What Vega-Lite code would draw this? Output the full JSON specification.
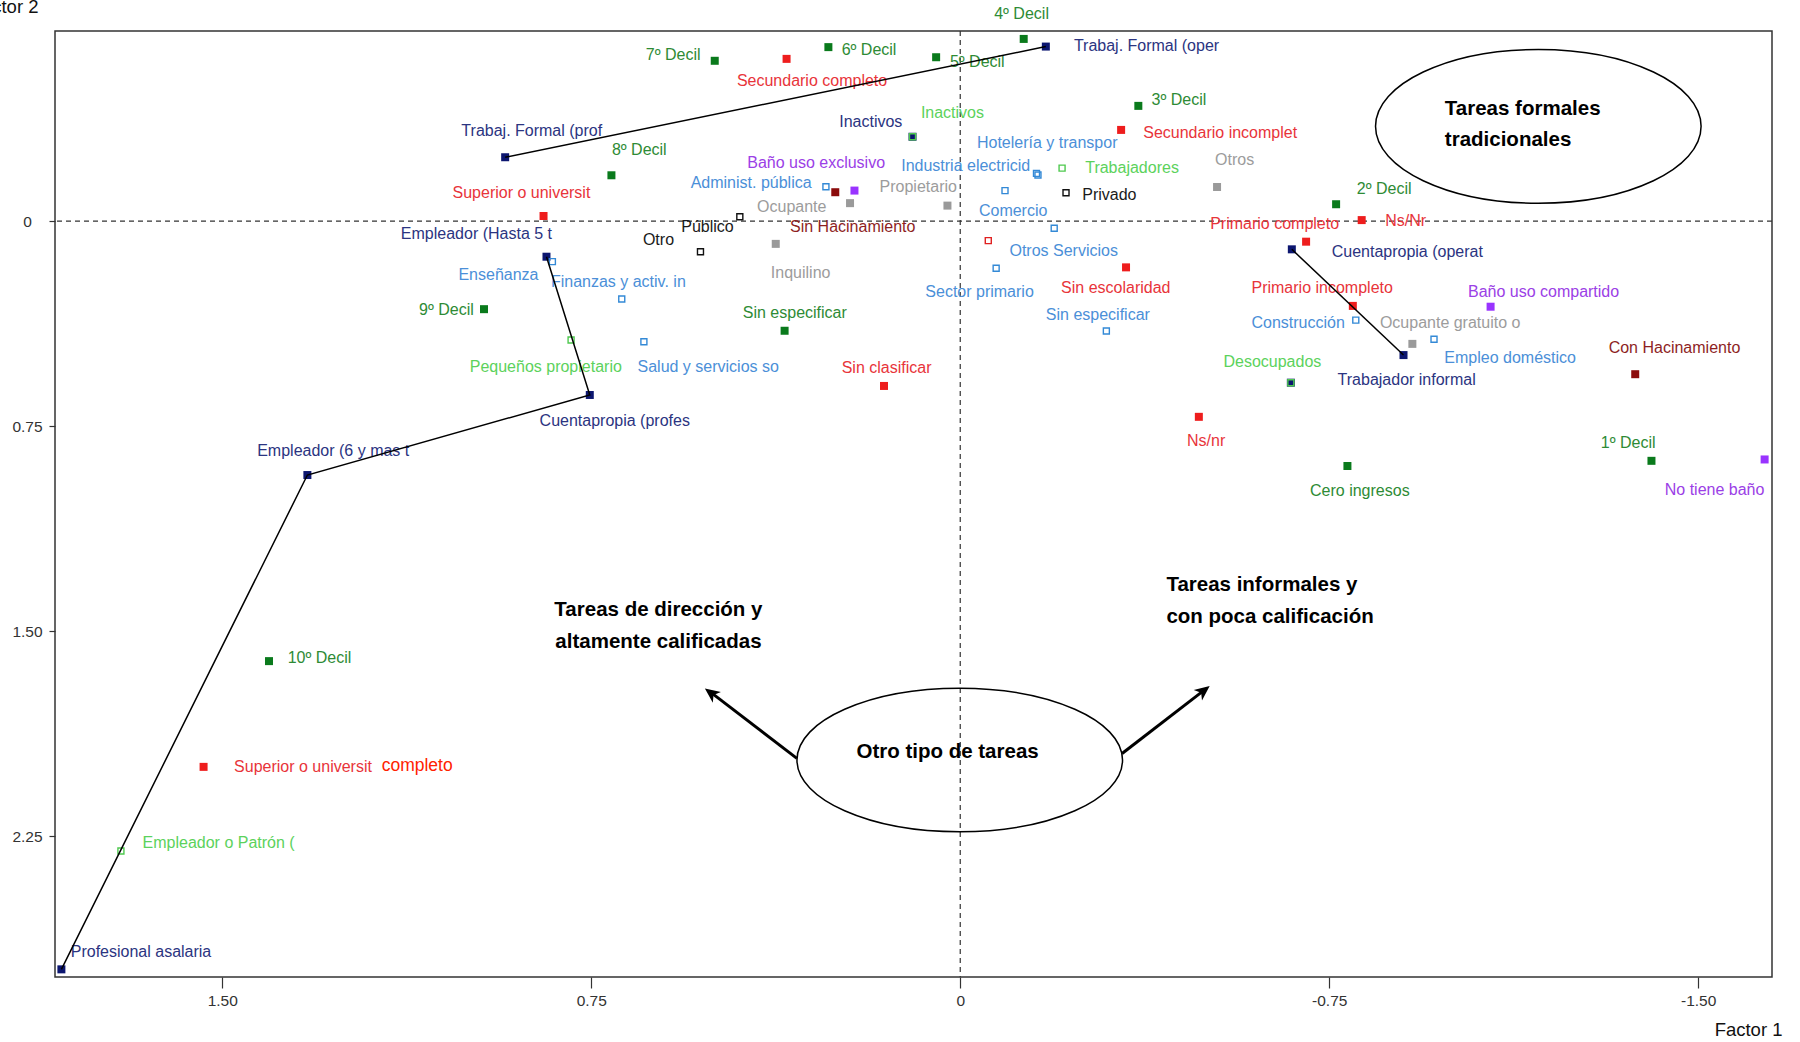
{
  "$schema": "https://vega.github.io/schema/vega-lite/v6.json",
  "width": 1717,
  "height": 946,
  "autosize": {"type": "none"},
  "padding": {"left": 55, "top": 31, "right": 28, "bottom": 65},
  "background": "white",
  "config": {
    "view": {"stroke": "#333333", "strokeWidth": 1.5},
    "axis": {"grid": false, "domain": false}
  },
  "datasets": {
    "pts": [
      {"n": "Trabaj. Formal (oper", "g": "ocup", "x": -0.174, "y": -0.639, "lx": -0.231, "ly": -0.641, "chain": "a", "ord": 1},
      {"n": "Trabaj. Formal (prof", "g": "ocup", "x": 0.925, "y": -0.234, "lx": 1.014, "ly": -0.329, "chain": "a", "ord": 2},
      {"n": "Empleador (Hasta 5 t", "g": "ocup", "x": 0.841, "y": 0.130, "lx": 1.137, "ly": 0.047, "chain": "b", "ord": 1},
      {"n": "Cuentapropia (profes", "g": "ocup", "x": 0.753, "y": 0.636, "lx": 0.855, "ly": 0.733, "chain": "b", "ord": 2},
      {"n": "Empleador (6 y mas t", "g": "ocup", "x": 1.327, "y": 0.929, "lx": 1.429, "ly": 0.840, "chain": "b", "ord": 3},
      {"n": "Profesional asalaria", "g": "ocup", "x": 1.827, "y": 2.738, "lx": 1.808, "ly": 2.674, "chain": "b", "ord": 4},
      {"n": "Cuentapropia (operat", "g": "ocup", "x": -0.674, "y": 0.103, "lx": -0.755, "ly": 0.113, "chain": "c", "ord": 1},
      {"n": "Trabajador informal", "g": "ocup", "x": -0.901, "y": 0.490, "lx": -0.767, "ly": 0.581, "chain": "c", "ord": 2},
      {"n": "Inactivos", "g": "ocup", "x": 0.097, "y": -0.309, "lx": 0.246, "ly": -0.364},
      {"n": "", "g": "ocup", "x": -0.672, "y": 0.591, "lx": -0.535, "ly": 0.514},
      {"n": "10º Decil", "g": "decil", "x": 1.405, "y": 1.610, "lx": 1.367, "ly": 1.600},
      {"n": "9º Decil", "g": "decil", "x": 0.968, "y": 0.322, "lx": 1.100, "ly": 0.325},
      {"n": "8º Decil", "g": "decil", "x": 0.709, "y": -0.168, "lx": 0.708, "ly": -0.259},
      {"n": "7º Decil", "g": "decil", "x": 0.499, "y": -0.587, "lx": 0.639, "ly": -0.608},
      {"n": "6º Decil", "g": "decil", "x": 0.268, "y": -0.637, "lx": 0.241, "ly": -0.627},
      {"n": "5º Decil", "g": "decil", "x": 0.049, "y": -0.600, "lx": 0.021, "ly": -0.584},
      {"n": "4º Decil", "g": "decil", "x": -0.129, "y": -0.667, "lx": -0.069, "ly": -0.758},
      {"n": "3º Decil", "g": "decil", "x": -0.362, "y": -0.422, "lx": -0.389, "ly": -0.444},
      {"n": "2º Decil", "g": "decil", "x": -0.764, "y": -0.062, "lx": -0.806, "ly": -0.116},
      {"n": "1º Decil", "g": "decil", "x": -1.405, "y": 0.877, "lx": -1.302, "ly": 0.813},
      {"n": "Sin especificar", "g": "decil", "x": 0.357, "y": 0.401, "lx": 0.442, "ly": 0.337},
      {"n": "Cero ingresos", "g": "decil", "x": -0.787, "y": 0.896, "lx": -0.711, "ly": 0.986},
      {"n": "Superior o universit", "g": "educ", "x": 0.847, "y": -0.019, "lx": 1.032, "ly": -0.102},
      {"n": "Superior o universit", "g": "educ", "x": 1.538, "y": 1.997, "lx": 1.476, "ly": 1.997},
      {"n": "Secundario completo", "g": "educ", "x": 0.353, "y": -0.594, "lx": 0.454, "ly": -0.513},
      {"n": "Secundario incomplet", "g": "educ", "x": -0.327, "y": -0.334, "lx": -0.372, "ly": -0.322},
      {"n": "Primario completo", "g": "educ", "x": -0.703, "y": 0.075, "lx": -0.508, "ly": 0.010},
      {"n": "Primario incompleto", "g": "educ", "x": -0.798, "y": 0.310, "lx": -0.592, "ly": 0.246},
      {"n": "Sin escolaridad", "g": "educ", "x": -0.337, "y": 0.169, "lx": -0.205, "ly": 0.246},
      {"n": "Ns/Nr", "g": "educ", "x": -0.816, "y": -0.004, "lx": -0.864, "ly": -0.002},
      {"n": "Ns/nr", "g": "educ", "x": -0.485, "y": 0.716, "lx": -0.461, "ly": 0.804},
      {"n": "Sin clasificar", "g": "educ", "x": 0.155, "y": 0.603, "lx": 0.241, "ly": 0.538},
      {"n": "Inactivos", "g": "activ", "x": 0.097, "y": -0.309, "lx": 0.080, "ly": -0.397},
      {"n": "Trabajadores", "g": "activ", "x": -0.207, "y": -0.194, "lx": -0.254, "ly": -0.194},
      {"n": "Desocupados", "g": "activ", "x": -0.672, "y": 0.591, "lx": -0.535, "ly": 0.514},
      {"n": "Pequeños propietario", "g": "activ", "x": 0.791, "y": 0.435, "lx": 0.997, "ly": 0.533},
      {"n": "Empleador o Patrón (", "g": "activ", "x": 1.706, "y": 2.305, "lx": 1.662, "ly": 2.277},
      {"n": "Hotelería y transpor", "g": "rama", "x": -0.158, "y": -0.169, "lx": -0.034, "ly": -0.285},
      {"n": "Industria electricid", "g": "rama", "x": -0.155, "y": -0.175, "lx": 0.120, "ly": -0.202},
      {"n": "Comercio", "g": "rama", "x": -0.091, "y": -0.112, "lx": -0.038, "ly": -0.038},
      {"n": "Otros Servicios", "g": "rama", "x": -0.191, "y": 0.026, "lx": -0.100, "ly": 0.108},
      {"n": "Administ. pública", "g": "rama", "x": 0.273, "y": -0.126, "lx": 0.548, "ly": -0.139},
      {"n": "Enseñanza", "g": "rama", "x": 0.829, "y": 0.148, "lx": 1.020, "ly": 0.197},
      {"n": "Finanzas y activ. in", "g": "rama", "x": 0.688, "y": 0.285, "lx": 0.832, "ly": 0.221},
      {"n": "Salud y servicios so", "g": "rama", "x": 0.643, "y": 0.441, "lx": 0.656, "ly": 0.533},
      {"n": "Sector primario", "g": "rama", "x": -0.073, "y": 0.172, "lx": 0.071, "ly": 0.258},
      {"n": "Sin especificar", "g": "rama", "x": -0.297, "y": 0.402, "lx": -0.174, "ly": 0.343},
      {"n": "Construcción", "g": "rama", "x": -0.804, "y": 0.362, "lx": -0.592, "ly": 0.374},
      {"n": "Empleo doméstico", "g": "rama", "x": -0.963, "y": 0.432, "lx": -0.984, "ly": 0.502},
      {"n": "Baño uso exclusivo", "g": "bano", "x": 0.215, "y": -0.112, "lx": 0.433, "ly": -0.212},
      {"n": "Baño uso compartido", "g": "bano", "x": -1.078, "y": 0.313, "lx": -1.032, "ly": 0.258},
      {"n": "No tiene baño", "g": "bano", "x": -1.635, "y": 0.872, "lx": -1.432, "ly": 0.984},
      {"n": "Sin Hacinamiento", "g": "hacin", "x": 0.254, "y": -0.106, "lx": 0.346, "ly": 0.020},
      {"n": "Con Hacinamiento", "g": "hacin", "x": -1.372, "y": 0.560, "lx": -1.318, "ly": 0.465},
      {"n": "Propietario", "g": "tenen", "x": 0.026, "y": -0.057, "lx": 0.164, "ly": -0.126},
      {"n": "Ocupante", "g": "tenen", "x": 0.224, "y": -0.066, "lx": 0.413, "ly": -0.053},
      {"n": "Inquilino", "g": "tenen", "x": 0.375, "y": 0.083, "lx": 0.385, "ly": 0.191},
      {"n": "Otros", "g": "tenen", "x": -0.522, "y": -0.125, "lx": -0.518, "ly": -0.224},
      {"n": "Ocupante gratuito o", "g": "tenen", "x": -0.919, "y": 0.449, "lx": -0.853, "ly": 0.374},
      {"n": "Público", "g": "sector", "x": 0.448, "y": -0.016, "lx": 0.567, "ly": 0.022},
      {"n": "Privado", "g": "sector", "x": -0.215, "y": -0.104, "lx": -0.248, "ly": -0.096},
      {"n": "Otro", "g": "sector", "x": 0.528, "y": 0.112, "lx": 0.645, "ly": 0.069},
      {"n": "", "g": "redh", "x": -0.057, "y": 0.071, "lx": -0.057, "ly": 0.071}
    ],
    "notes": [
      {"t": "Tareas formales", "x": -0.985, "y": -0.410},
      {"t": "tradicionales", "x": -0.985, "y": -0.297},
      {"t": "Tareas de dirección y", "x": 0.825, "y": 1.423},
      {"t": "altamente calificadas", "x": 0.823, "y": 1.540},
      {"t": "Tareas informales y", "x": -0.419, "y": 1.330},
      {"t": "con poca calificación", "x": -0.419, "y": 1.447},
      {"t": "Otro tipo de tareas", "x": 0.211, "y": 1.942}
    ],
    "extra": [
      {"t": "completo", "x": 1.176, "y": 1.995}
    ],
    "ellipses": [
      {"e": "e1", "x": -1.175, "y": -0.347},
      {"e": "e2", "x": 0.001, "y": 1.972}
    ],
    "arrows": [
      {"x": 0.332, "y": 1.966, "x2": 0.505, "y2": 1.727},
      {"x": -0.329, "y": 1.948, "x2": -0.494, "y2": 1.719}
    ]
  },
  "layer": [
    {
      "data": {"values": [{}]},
      "mark": {"type": "rule", "strokeDash": [5, 4], "color": "#333333", "strokeWidth": 1.2},
      "encoding": {
        "y": {"datum": 0, "type": "quantitative", "title": "Factor 2", "scale": {"domain": [-0.696, 2.766], "reverse": true, "nice": false, "zero": false}}
      }
    },
    {
      "data": {"values": [{}]},
      "mark": {"type": "rule", "strokeDash": [5, 4], "color": "#333333", "strokeWidth": 1.2},
      "encoding": {
        "x": {"datum": 0, "type": "quantitative", "title": "Factor 1", "scale": {"domain": [-1.65, 1.84], "reverse": true, "nice": false, "zero": false}}
      }
    },
    {
      "data": {"name": "pts"},
      "transform": [{"filter": "indexof(['ocup','decil','educ','bano','hacin','tenen'], datum.g) >= 0"}],
      "mark": {"type": "square", "size": 64, "filled": true, "opacity": 1},
      "encoding": {
        "x": {"field": "x", "type": "quantitative", "title": "Factor 1",
          "scale": {"domain": [-1.65, 1.84], "reverse": true, "nice": false, "zero": false},
          "axis": {"values": [1.5, 0.75, 0, -0.75, -1.5], "labelExpr": "datum.value == 0 ? '0' : replace(format(datum.value, '.2f'), '\u2212', '-')",
            "tickSize": 11, "tickColor": "#333333", "tickWidth": 1.2, "labelPadding": 5,
            "labelFont": "Liberation Sans, Arial, sans-serif", "labelFontSize": 15.5, "labelColor": "#333333",
            "titleFont": "Liberation Sans, Arial, sans-serif", "titleFontSize": 18.5, "titleFontWeight": "normal", "titleColor": "#111111",
            "titleX": 1727, "titleY": 58, "titleAlign": "right", "titleBaseline": "alphabetic"}},
        "y": {"field": "y", "type": "quantitative", "title": "Factor 2",
          "scale": {"domain": [-0.696, 2.766], "reverse": true, "nice": false, "zero": false},
          "axis": {"values": [0, 0.75, 1.5, 2.25], "labelExpr": "datum.value == 0 ? '0' : format(datum.value, '.2f')",
            "tickSize": 6, "tickColor": "#333333", "tickWidth": 1.2, "labelPadding": 22, "labelAlign": "center", "labelBaseline": "middle",
            "labelFont": "Liberation Sans, Arial, sans-serif", "labelFontSize": 15.5, "labelColor": "#333333",
            "titleFont": "Liberation Sans, Arial, sans-serif", "titleFontSize": 18.5, "titleFontWeight": "normal", "titleColor": "#111111",
            "titleAngle": 0, "titleX": -17, "titleY": -19, "titleAlign": "right", "titleBaseline": "alphabetic"}},
        "fill": {"field": "g", "type": "nominal", "legend": null,
          "scale": {"domain": ["ocup", "decil", "educ", "bano", "hacin", "tenen"], "range": ["#0c1670", "#0a7a1c", "#ee1d1d", "#9933ff", "#8b0b0b", "#9a9a9a"]}}
      }
    },
    {
      "data": {"name": "pts"},
      "transform": [{"filter": "indexof(['activ','rama','sector','redh'], datum.g) >= 0"}],
      "mark": {"type": "square", "size": 36, "filled": false, "strokeWidth": 1.4, "opacity": 1},
      "encoding": {
        "x": {"field": "x", "type": "quantitative", "title": "Factor 1", "scale": {"domain": [-1.65, 1.84], "reverse": true, "nice": false, "zero": false}},
        "y": {"field": "y", "type": "quantitative", "title": "Factor 2", "scale": {"domain": [-0.696, 2.766], "reverse": true, "nice": false, "zero": false}},
        "stroke": {"field": "g", "type": "nominal", "legend": null,
          "scale": {"domain": ["activ", "rama", "sector", "redh"], "range": ["#4fc94f", "#3389d6", "#111111", "#e02020"]}}
      }
    },
    {
      "data": {"name": "pts"},
      "transform": [{"filter": "datum.n != ''"}],
      "mark": {"type": "text", "align": "left", "baseline": "middle", "font": "Liberation Sans, Arial, sans-serif", "fontSize": 16},
      "encoding": {
        "x": {"field": "lx", "type": "quantitative", "title": "Factor 1", "scale": {"domain": [-1.65, 1.84], "reverse": true, "nice": false, "zero": false}},
        "y": {"field": "ly", "type": "quantitative", "title": "Factor 2", "scale": {"domain": [-0.696, 2.766], "reverse": true, "nice": false, "zero": false}},
        "text": {"field": "n"},
        "color": {"field": "g", "type": "nominal", "legend": null,
          "scale": {"domain": ["ocup", "decil", "educ", "activ", "rama", "bano", "hacin", "tenen", "sector", "redh"],
            "range": ["#2b3481", "#2e8b35", "#e8343a", "#5cd25c", "#4b8fd8", "#9b40e6", "#8e1f1f", "#9c9c9c", "#1a1a1a", "#e03030"]}}
      }
    },
    {
      "data": {"name": "pts"},
      "transform": [{"filter": "datum.chain != null"}],
      "mark": {"type": "line", "color": "black", "strokeWidth": 1.5},
      "encoding": {
        "x": {"field": "x", "type": "quantitative", "title": "Factor 1", "scale": {"domain": [-1.65, 1.84], "reverse": true, "nice": false, "zero": false}},
        "y": {"field": "y", "type": "quantitative", "title": "Factor 2", "scale": {"domain": [-0.696, 2.766], "reverse": true, "nice": false, "zero": false}},
        "detail": {"field": "chain"},
        "order": {"field": "ord", "type": "quantitative"}
      }
    },
    {
      "data": {"name": "ellipses"},
      "mark": {"type": "point", "filled": false, "size": 106000, "strokeWidth": 1.5, "color": "black", "opacity": 1},
      "encoding": {
        "x": {"field": "x", "type": "quantitative", "title": "Factor 1", "scale": {"domain": [-1.65, 1.84], "reverse": true, "nice": false, "zero": false}},
        "y": {"field": "y", "type": "quantitative", "title": "Factor 2", "scale": {"domain": [-0.696, 2.766], "reverse": true, "nice": false, "zero": false}},
        "shape": {"field": "e", "type": "nominal", "legend": null,
          "scale": {"domain": ["e1", "e2"], "range": ["M-1,0A1,0.4724,0,1,1,1,0A1,0.4724,0,1,1,-1,0Z", "M-1,0A1,0.4407,0,1,1,1,0A1,0.4407,0,1,1,-1,0Z"]}}
      }
    },
    {
      "data": {"name": "arrows"},
      "mark": {"type": "rule", "color": "black", "strokeWidth": 3},
      "encoding": {
        "x": {"field": "x", "type": "quantitative", "title": "Factor 1", "scale": {"domain": [-1.65, 1.84], "reverse": true, "nice": false, "zero": false}},
        "y": {"field": "y", "type": "quantitative", "title": "Factor 2", "scale": {"domain": [-0.696, 2.766], "reverse": true, "nice": false, "zero": false}},
        "x2": {"field": "x2"},
        "y2": {"field": "y2"}
      }
    },
    {
      "data": {"values": [{"x": 0.519, "y": 1.710}]},
      "mark": {"type": "point", "shape": "M0,0L0.45,1L0,0.72L-0.45,1Z", "filled": true, "size": 900, "angle": 307, "color": "black", "opacity": 1},
      "encoding": {
        "x": {"field": "x", "type": "quantitative", "title": "Factor 1", "scale": {"domain": [-1.65, 1.84], "reverse": true, "nice": false, "zero": false}},
        "y": {"field": "y", "type": "quantitative", "title": "Factor 2", "scale": {"domain": [-0.696, 2.766], "reverse": true, "nice": false, "zero": false}}
      }
    },
    {
      "data": {"values": [{"x": -0.507, "y": 1.701}]},
      "mark": {"type": "point", "shape": "M0,0L0.45,1L0,0.72L-0.45,1Z", "filled": true, "size": 900, "angle": 52, "color": "black", "opacity": 1},
      "encoding": {
        "x": {"field": "x", "type": "quantitative", "title": "Factor 1", "scale": {"domain": [-1.65, 1.84], "reverse": true, "nice": false, "zero": false}},
        "y": {"field": "y", "type": "quantitative", "title": "Factor 2", "scale": {"domain": [-0.696, 2.766], "reverse": true, "nice": false, "zero": false}}
      }
    },
    {
      "data": {"name": "notes"},
      "mark": {"type": "text", "align": "left", "baseline": "middle", "font": "Liberation Sans, Arial, sans-serif", "fontSize": 20.5, "fontWeight": "bold", "color": "black"},
      "encoding": {
        "x": {"field": "x", "type": "quantitative", "title": "Factor 1", "scale": {"domain": [-1.65, 1.84], "reverse": true, "nice": false, "zero": false}},
        "y": {"field": "y", "type": "quantitative", "title": "Factor 2", "scale": {"domain": [-0.696, 2.766], "reverse": true, "nice": false, "zero": false}},
        "text": {"field": "t"}
      }
    },
    {
      "data": {"name": "extra"},
      "mark": {"type": "text", "align": "left", "baseline": "middle", "font": "Liberation Sans, Arial, sans-serif", "fontSize": 17.5, "color": "#ff2200"},
      "encoding": {
        "x": {"field": "x", "type": "quantitative", "title": "Factor 1", "scale": {"domain": [-1.65, 1.84], "reverse": true, "nice": false, "zero": false}},
        "y": {"field": "y", "type": "quantitative", "title": "Factor 2", "scale": {"domain": [-0.696, 2.766], "reverse": true, "nice": false, "zero": false}},
        "text": {"field": "t"}
      }
    }
  ]
}
